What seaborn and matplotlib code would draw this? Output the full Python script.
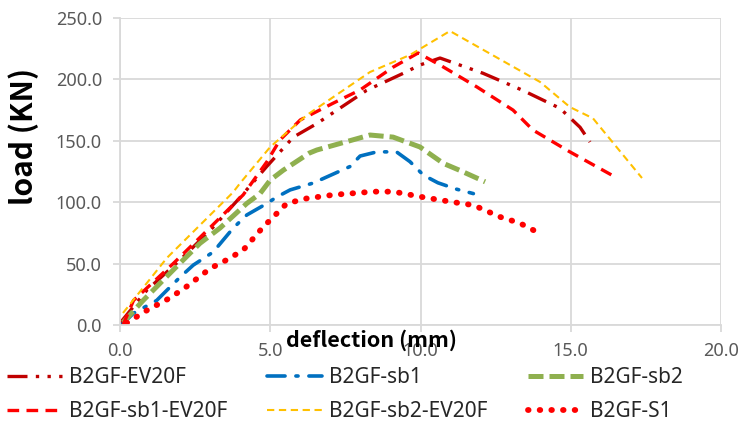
import matplotlib
matplotlib.use("Agg")
import matplotlib.pyplot as plt
import seaborn as sns
import pandas as pd

# ---- data (deflection mm, load kN) ----
ev20f_x = [0.0, 0.9, 2.0, 3.0, 4.0, 4.88, 5.77, 6.55, 8.2, 9.43, 9.98, 10.65, 12.08, 13.41, 14.64, 15.31, 15.64]
ev20f_y = [1.5, 28.5, 53, 77, 104, 129, 153, 164, 191, 205, 211.7, 217.4, 205, 191, 176.5, 161, 149]

sb1_x = [0.05, 0.45, 1.22, 2.0, 2.44, 3.1, 3.77, 4.22, 4.89, 5.2, 5.66, 6.43, 7.65, 7.99, 8.55, 9.2, 9.65, 10.1, 10.58, 11.2, 11.76]
sb1_y = [0, 9.6, 20, 39, 48.8, 59.4, 79, 89.6, 99, 104, 110, 115.6, 129, 137.6, 141, 141, 133, 122, 115.8, 110.6, 107]

sb2_x = [0.1, 0.77, 1.77, 2.66, 3.33, 4.22, 4.66, 5.0, 5.43, 6.3, 6.55, 8.32, 9.09, 9.98, 10.76, 11.3, 12.15]
sb2_y = [2, 20, 44.8, 66.5, 79, 99, 107, 118, 126, 140, 142.5, 154.7, 153, 145, 131.6, 126, 116.6]

sb1ev_x = [0.1, 0.45, 1.77, 2.9, 4.1, 4.89, 5.32, 6.0, 7.09, 7.99, 9.09, 9.92, 10.65, 11.88, 13.08, 13.74, 14.97, 16.54]
sb1ev_y = [0, 20, 50, 77, 106, 133, 150.6, 167, 180.6, 191.4, 210, 221.5, 211.7, 193.8, 175, 158.8, 141, 119.7]

sb2ev_x = [0.1, 1.56, 3.76, 4.0, 5.0, 6.22, 8.32, 9.65, 10.98, 13.98, 14.97, 15.74, 17.37]
sb2ev_y = [9.8, 54.6, 108, 115.6, 145, 171, 206, 219.9, 239.4, 197.9, 177.5, 168.3, 119.7]

s1_x = [0.22, 0.9, 1.66, 2.2, 3.0, 3.55, 4.1, 4.77, 5.0, 5.55, 6.2, 7.1, 8.43, 9.1, 10.1, 11.1, 11.76, 12.65, 13.3, 13.88]
s1_y = [1.6, 12, 22, 31, 46, 53, 61, 80, 85.5, 99, 103, 106, 108.6, 108.6, 104, 100, 97.6, 88, 83, 75.7]

names = ["B2GF-EV20F", "B2GF-sb1", "B2GF-sb2", "B2GF-sb1-EV20F", "B2GF-sb2-EV20F", "B2GF-S1"]
xs = [ev20f_x, sb1_x, sb2_x, sb1ev_x, sb2ev_x, s1_x]
ys = [ev20f_y, sb1_y, sb2_y, sb1ev_y, sb2ev_y, s1_y]

colors = ["#C00000", "#0070C0", "#8FB04F", "#FF0000", "#FFC000", "#FF0000"]
widths = [2.4, 2.6, 3.6, 2.4, 1.5, 4.2]
dashes = [(6, 2.5, 1, 2.5, 1, 2.5), (5, 3, 0.6, 3), (3, 1.2), (3.5, 2.2), (3.5, 2.2), (0.1, 1.9)]
caps = ["butt", "round", "butt", "butt", "butt", "round"]

sns.set_theme(style="white")
plt.rcParams['font.family'] = ['Noto Sans', 'DejaVu Sans']
bold_family = ['Noto Sans CJK KR', 'DejaVu Sans']

fig = plt.figure(figsize=(7.41, 4.23), dpi=100)
ax = fig.add_axes([120/741, 1-325/423, 601/741, 307/423])

handles = {}
for n, x, y, c, w, d, cp in zip(names, xs, ys, colors, widths, dashes, caps):
    df = pd.DataFrame({"deflection": x, "load": y})
    sns.lineplot(data=df, x="deflection", y="load", ax=ax, sort=False,
                 color=c, linewidth=w, estimator=None, label=n)
    ln = ax.lines[-1]
    ln.set_dashes(d)
    ln.set_dash_capstyle(cp)
    handles[n] = ln

ax.set_xlim(0, 20)
ax.set_ylim(0, 250)
ax.set_xticks([0, 5, 10, 15, 20])
ax.set_yticks([0, 50, 100, 150, 200, 250])
ax.set_xticklabels([f"{v:.1f}" for v in [0, 5, 10, 15, 20]])
ax.set_yticklabels([f"{v:.1f}" for v in [0, 50, 100, 150, 200, 250]])
ax.grid(True, color="#D9D9D9", linewidth=1.3)
for s in ["top", "right"]:
    ax.spines[s].set_visible(False)
for s in ["left", "bottom"]:
    ax.spines[s].set_color("#D9D9D9")
    ax.spines[s].set_linewidth(1.3)
ax.tick_params(axis="both", colors="#D9D9D9", labelcolor="#595959", labelsize=13,
               length=5, width=1.3, direction="out", left=True, bottom=True)
ax.tick_params(axis="y", pad=8)
ax.tick_params(axis="x", pad=7)

ax.set_xlabel("deflection (mm)", fontsize=15.5, fontweight="bold", color="black",
              family=bold_family)
ax.xaxis.set_label_coords((371-120)/601, (325-340)/307)
ax.xaxis.label.set_va("center")
ax.set_ylabel("load (KN)", fontsize=21.5, fontweight="bold", color="black",
              family=bold_family)
ax.yaxis.set_label_coords((24-120)/601, (325-136)/307)
ax.yaxis.label.set_va("center")

fs = 15
em = fs * 100 / 72
order = ["B2GF-EV20F", "B2GF-sb1-EV20F", "B2GF-sb1", "B2GF-sb2-EV20F", "B2GF-sb2", "B2GF-S1"]
ax.legend([handles[o] for o in order], order, ncol=3, loc="upper left",
          bbox_to_anchor=((7-120)/601, (325-367)/307), frameon=False, fontsize=fs,
          handlelength=55/em, handletextpad=7/em, columnspacing=40/em, labelspacing=0.62,
          borderaxespad=0, borderpad=0)

fig.savefig("out.png", dpi=100)
